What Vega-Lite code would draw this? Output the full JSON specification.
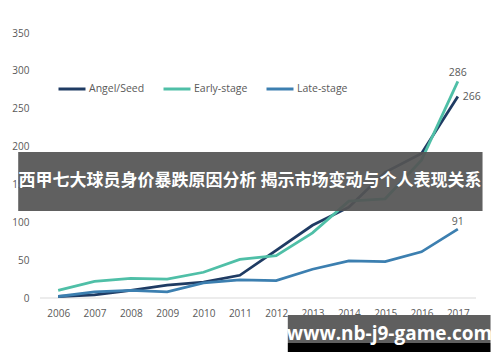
{
  "$schema": "https://vega.github.io/schema/vega-lite/v6.json",
  "width": 436,
  "height": 265,
  "autosize": "none",
  "padding": {"left": 40, "top": 33, "right": 24, "bottom": 64},
  "background": "white",
  "config": {
    "view": {"stroke": null},
    "font": "Open Sans",
    "axis": {"labelColor": "#595959", "labelFontSize": 10, "domain": false, "ticks": false, "title": null, "labelOverlap": false, "grid": false},
    "axisX": {"tickCount": 20, "format": "d", "grid": false, "labelPadding": 10, "labelOverlap": false},
    "axisY": {"tickCount": 20, "grid": false, "labelPadding": 11, "labelOverlap": false, "labelFlush": false, "labelBound": false}
  },
  "data": {
    "values": [
      {"year": 2006, "series": "Angel/Seed", "value": 2},
      {"year": 2007, "series": "Angel/Seed", "value": 4},
      {"year": 2008, "series": "Angel/Seed", "value": 10},
      {"year": 2009, "series": "Angel/Seed", "value": 17},
      {"year": 2010, "series": "Angel/Seed", "value": 21},
      {"year": 2011, "series": "Angel/Seed", "value": 30},
      {"year": 2012, "series": "Angel/Seed", "value": 63},
      {"year": 2013, "series": "Angel/Seed", "value": 96},
      {"year": 2014, "series": "Angel/Seed", "value": 120},
      {"year": 2015, "series": "Angel/Seed", "value": 166},
      {"year": 2016, "series": "Angel/Seed", "value": 191},
      {"year": 2017, "series": "Angel/Seed", "value": 266},
      {"year": 2006, "series": "Early-stage", "value": 10},
      {"year": 2007, "series": "Early-stage", "value": 22},
      {"year": 2008, "series": "Early-stage", "value": 26},
      {"year": 2009, "series": "Early-stage", "value": 25},
      {"year": 2010, "series": "Early-stage", "value": 34},
      {"year": 2011, "series": "Early-stage", "value": 51},
      {"year": 2012, "series": "Early-stage", "value": 56},
      {"year": 2013, "series": "Early-stage", "value": 86},
      {"year": 2014, "series": "Early-stage", "value": 128},
      {"year": 2015, "series": "Early-stage", "value": 131},
      {"year": 2016, "series": "Early-stage", "value": 182},
      {"year": 2017, "series": "Early-stage", "value": 286},
      {"year": 2006, "series": "Late-stage", "value": 2},
      {"year": 2007, "series": "Late-stage", "value": 8},
      {"year": 2008, "series": "Late-stage", "value": 10},
      {"year": 2009, "series": "Late-stage", "value": 8},
      {"year": 2010, "series": "Late-stage", "value": 20},
      {"year": 2011, "series": "Late-stage", "value": 24},
      {"year": 2012, "series": "Late-stage", "value": 23},
      {"year": 2013, "series": "Late-stage", "value": 38},
      {"year": 2014, "series": "Late-stage", "value": 49},
      {"year": 2015, "series": "Late-stage", "value": 48},
      {"year": 2016, "series": "Late-stage", "value": 61},
      {"year": 2017, "series": "Late-stage", "value": 91}
    ]
  },
  "layer": [
    {
      "data": {"values": [{"baseline": 0}]},
      "mark": {"type": "rule", "color": "#d9d9d9", "strokeWidth": 1},
      "encoding": {
        "y": {"field": "baseline", "type": "quantitative"}
      }
    },
    {
      "mark": {"type": "line", "strokeWidth": 2.8},
      "encoding": {
        "x": {
          "field": "year", "type": "quantitative",
          "scale": {"domain": [2005.5, 2017.5], "nice": false, "zero": false},
          "axis": {"values": [2006, 2007, 2008, 2009, 2010, 2011, 2012, 2013, 2014, 2015, 2016, 2017], "tickCount": 20, "format": "d", "grid": false, "labelPadding": 10, "labelOverlap": false}
        },
        "y": {
          "field": "value", "type": "quantitative",
          "scale": {"domain": [0, 350], "nice": false},
          "axis": {"values": [0, 50, 100, 150, 200, 250, 300, 350], "tickCount": 20, "labelOverlap": false, "grid": false}
        },
        "color": {
          "field": "series", "type": "nominal",
          "scale": {"domain": ["Angel/Seed", "Early-stage", "Late-stage"], "range": ["#1f3b63", "#4fbfa7", "#3c7fb0"]},
          "legend": {
            "title": null,
            "orient": "none",
            "direction": "horizontal",
            "legendX": 17,
            "legendY": 41,
            "symbolType": "stroke",
            "symbolSize": 729,
            "symbolStrokeWidth": 3,
            "labelFontSize": 10.5,
            "labelColor": "#595959",
            "labelOffset": 2,
            "columnPadding": 12
          }
        }
      }
    },
    {
      "transform": [{"filter": "datum.year === 2017 && datum.series === 'Early-stage'"}],
      "mark": {"type": "text", "dy": -8, "fontSize": 10.5, "color": "#595959"},
      "encoding": {
        "x": {"field": "year", "type": "quantitative"},
        "y": {"field": "value", "type": "quantitative"},
        "text": {"field": "value"}
      }
    },
    {
      "transform": [{"filter": "datum.year === 2017 && datum.series === 'Angel/Seed'"}],
      "mark": {"type": "text", "dx": 5, "align": "left", "fontSize": 10.5, "color": "#595959"},
      "encoding": {
        "x": {"field": "year", "type": "quantitative"},
        "y": {"field": "value", "type": "quantitative"},
        "text": {"field": "value"}
      }
    },
    {
      "transform": [{"filter": "datum.year === 2017 && datum.series === 'Late-stage'"}],
      "mark": {"type": "text", "dy": -7, "fontSize": 10.5, "color": "#595959"},
      "encoding": {
        "x": {"field": "year", "type": "quantitative"},
        "y": {"field": "value", "type": "quantitative"},
        "text": {"field": "value"}
      }
    },
    {
      "data": {"values": [{"label": "西甲七大球员身价暴跌原因分析 揭示市场变动与个人表现关系"}]},
      "mark": {"type": "rect", "color": "#545454", "opacity": 0.93},
      "encoding": {
        "x": {"datum": 2004.9, "type": "quantitative"},
        "x2": {"datum": 2017.68},
        "y": {"datum": 192.9, "type": "quantitative"},
        "y2": {"datum": 114.9}
      }
    },
    {
      "data": {"values": [{"label": "西甲七大球员身价暴跌原因分析 揭示市场变动与个人表现关系"}]},
      "mark": {"type": "text", "color": "white", "fontSize": 17, "fontWeight": "bold", "font": "Noto Sans CJK SC", "baseline": "middle"},
      "encoding": {
        "x": {"datum": 2011.28, "type": "quantitative"},
        "y": {"datum": 154.6, "type": "quantitative"},
        "text": {"field": "label"}
      }
    },
    {
      "data": {"values": [{"label": "www.nb-j9-game.com"}]},
      "mark": {"type": "rect", "color": "#5f5f5f"},
      "encoding": {
        "x": {"datum": 2012.32, "type": "quantitative"},
        "x2": {"datum": 2017.9},
        "y": {"datum": -22.5, "type": "quantitative"},
        "y2": {"datum": -59.4}
      }
    },
    {
      "data": {"values": [{"label": "www.nb-j9-game.com"}]},
      "mark": {"type": "rect", "color": "#000000"},
      "encoding": {
        "x": {"datum": 2012.32, "type": "quantitative"},
        "x2": {"datum": 2017.9},
        "y": {"datum": -59.4, "type": "quantitative"},
        "y2": {"datum": -71.3}
      }
    },
    {
      "data": {"values": [{"label": "www.nb-j9-game.com"}]},
      "mark": {"type": "text", "color": "white", "fontSize": 19, "fontWeight": "bold", "font": "Open Sans", "baseline": "middle"},
      "encoding": {
        "x": {"datum": 2015.12, "type": "quantitative"},
        "y": {"datum": -47.6, "type": "quantitative"},
        "text": {"field": "label"}
      }
    }
  ]
}
